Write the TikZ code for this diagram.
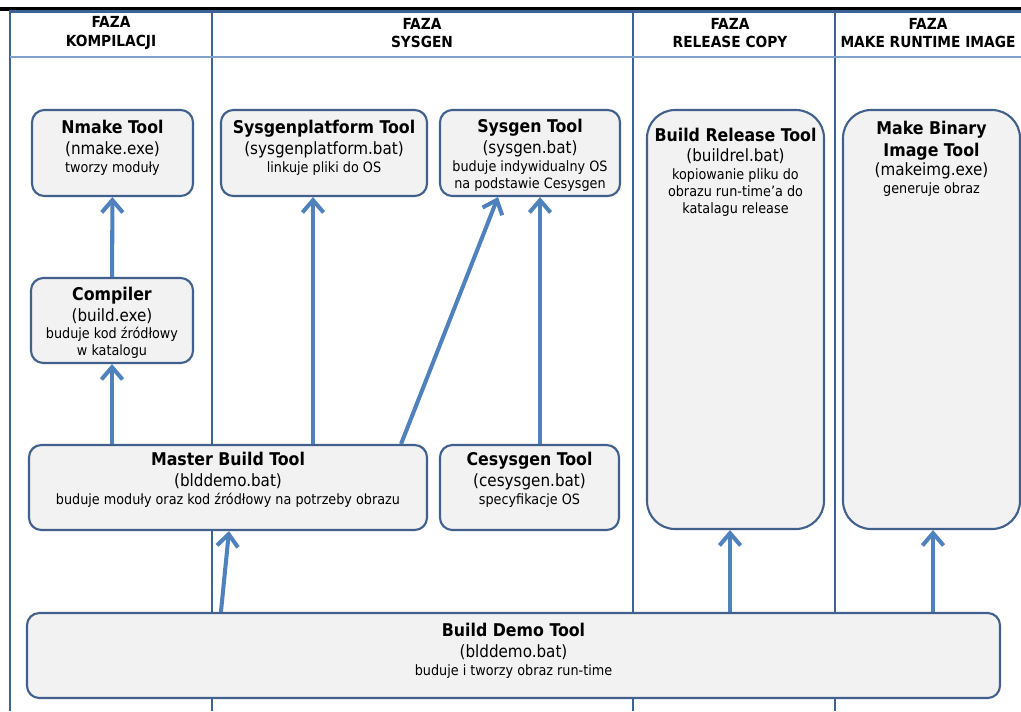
\documentclass[tikz,border=0pt]{standalone}
\usepackage{fontspec}
\setmainfont{DejaVu Sans Condensed}
\usetikzlibrary{arrows.meta,positioning,fit,calc}
\definecolor{frameblue}{HTML}{3D6396}
\definecolor{lineblue}{HTML}{7FA0CC}
\definecolor{boxblue}{HTML}{41608C}
\definecolor{arrowblue}{HTML}{4F81BD}
\definecolor{boxfill}{HTML}{F2F2F2}
\newcommand{\tname}[1]{{\bfseries\fontsize{10}{12}\selectfont #1}}
\newcommand{\tfile}[1]{{\fontsize{9.6}{12}\selectfont #1}}

\begin{document}
\begin{tikzpicture}[x=0.02cm,y=-0.02cm,
    phase/.style={font=\bfseries\fontsize{8.7}{10.4}\selectfont, align=center, inner sep=0pt},
    frame/.style={draw=frameblue, line width=1.3pt},
    tool/.style={draw=boxblue, line width=1.2pt, fill=boxfill, rounded corners=7pt, inner sep=0pt},
    bigtool/.style={tool, rounded corners=16pt},
    tooltext/.style={font=\fontsize{8.1}{9.7}\selectfont, align=center, inner sep=0pt},
    flow/.style={draw=arrowblue, line width=2.3pt, -{Straight Barb[length=7pt,width=12pt]}}]
  \useasboundingbox (0,0) rectangle (1021,711);
  \draw[line width=1.8pt] (0,9) -- (1021,9);
  \draw[frame] (1021,11.5) -- (10,11.5) -- (10,711);
  \draw[frame] (212,11.5) -- (212,711);
  \draw[frame] (633,11.5) -- (633,711);
  \draw[frame] (835,11.5) -- (835,711);
  \draw[draw=lineblue, line width=1pt] (10,57) -- (1021,57);

  \node[phase] (hkomp) at (111,33) {FAZA\\KOMPILACJI};
  \node[phase] (hsysgen) at (422,33) {FAZA\\SYSGEN};
  \node[phase] (hrelease) at (730,33) {FAZA\\RELEASE COPY};
  \node[phase] (himage) at (928,33) {FAZA\\MAKE RUNTIME IMAGE};

  \node[tool, fit={(32,110) (193,196)}] (nmake) {};
  \node[tooltext, below=6.4pt of nmake.north] (nmaketxt)
    {\tname{Nmake Tool}\\[2pt] \tfile{(nmake.exe)}\\[0.4pt] tworzy moduły};
  \node[tool, fit={(31,278) (193,363)}] (compiler) {};
  \node[tooltext, below=5.6pt of compiler.north] (compilertxt)
    {\tname{Compiler}\\[2pt] \tfile{(build.exe)}\\[0.4pt] buduje kod źródłowy\\ w katalogu};
  \node[tool, fit={(221,110) (427,196)}] (sysplat) {};
  \node[tooltext, below=6.4pt of sysplat.north] (sysplattxt)
    {\tname{Sysgenplatform Tool}\\[2pt] \tfile{(sysgenplatform.bat)}\\[0.4pt] linkuje pliki do OS};
  \node[tool, fit={(440,110) (620,196)}] (sysgen) {};
  \node[tooltext, below=5.8pt of sysgen.north] (sysgentxt)
    {\tname{Sysgen Tool}\\[2pt] \tfile{(sysgen.bat)}\\[0.4pt] buduje indywidualny OS\\ na podstawie Cesysgen};
  \node[tool, fit={(29,445) (427,530)}] (master) {};
  \node[tooltext, below=4.6pt of master.north] (mastertxt)
    {\tname{Master Build Tool}\\[2pt] \tfile{(blddemo.bat)}\\[0.4pt] buduje moduły oraz kod źródłowy na potrzeby obrazu};
  \node[tool, fit={(440,445) (619,530)}] (cesysgen) {};
  \node[tooltext, below=4.6pt of cesysgen.north] (cesysgentxt)
    {\tname{Cesysgen Tool}\\[2pt] \tfile{(cesysgen.bat)}\\[0.4pt] specyfikacje OS};
  \node[bigtool, fit={(647,110) (824,529)}] (release) {};
  \node[tooltext, below=10.6pt of release.north] (releasetxt)
    {\tname{Build Release Tool}\\[2pt] \tfile{(buildrel.bat)}\\[0.4pt] kopiowanie pliku do\\ obrazu run-time'a do\\ katalagu release};
  \node[bigtool, fit={(843,110) (1020,529)}] (makebin) {};
  \node[tooltext, below=6.6pt of makebin.north] (makebintxt)
    {\tname{Make Binary}\\[2pt] \tname{Image Tool}\\[1pt] \tfile{(makeimg.exe)}\\[0.4pt] generuje obraz};
  \node[tool, fit={(27,613) (1000,698)}] (demo) {};
  \node[tooltext, below=6.4pt of demo.north] (demotxt)
    {\tname{Build Demo Tool}\\[2pt] \tfile{(blddemo.bat)}\\[0.4pt] buduje i tworzy obraz run-time};

  \coordinate (xsp) at (313,0);
  \coordinate (xce) at (540,0);
  \coordinate (xrel) at (730,0);
  \coordinate (xbin) at (933,0);
  \draw[flow] (compiler) -- (nmake);
  \draw[flow] (master.north -| compiler) -- (compiler);
  \draw[flow] (master.north -| xsp) -- (sysplat.south -| xsp);
  \draw[flow] ($(master.north east)+(-27,0)$) -- ($(sysgen.south)+(-32,0)$);
  \draw[flow] (cesysgen.north -| xce) -- (sysgen.south -| xce);
  \draw[flow] ($(demo.north west)+(195,0)$) -- ($(master.south)+(1,0)$);
  \draw[flow] (demo.north -| xrel) -- (release.south -| xrel);
  \draw[flow] (demo.north -| xbin) -- (makebin.south -| xbin);
\end{tikzpicture}
\end{document}
